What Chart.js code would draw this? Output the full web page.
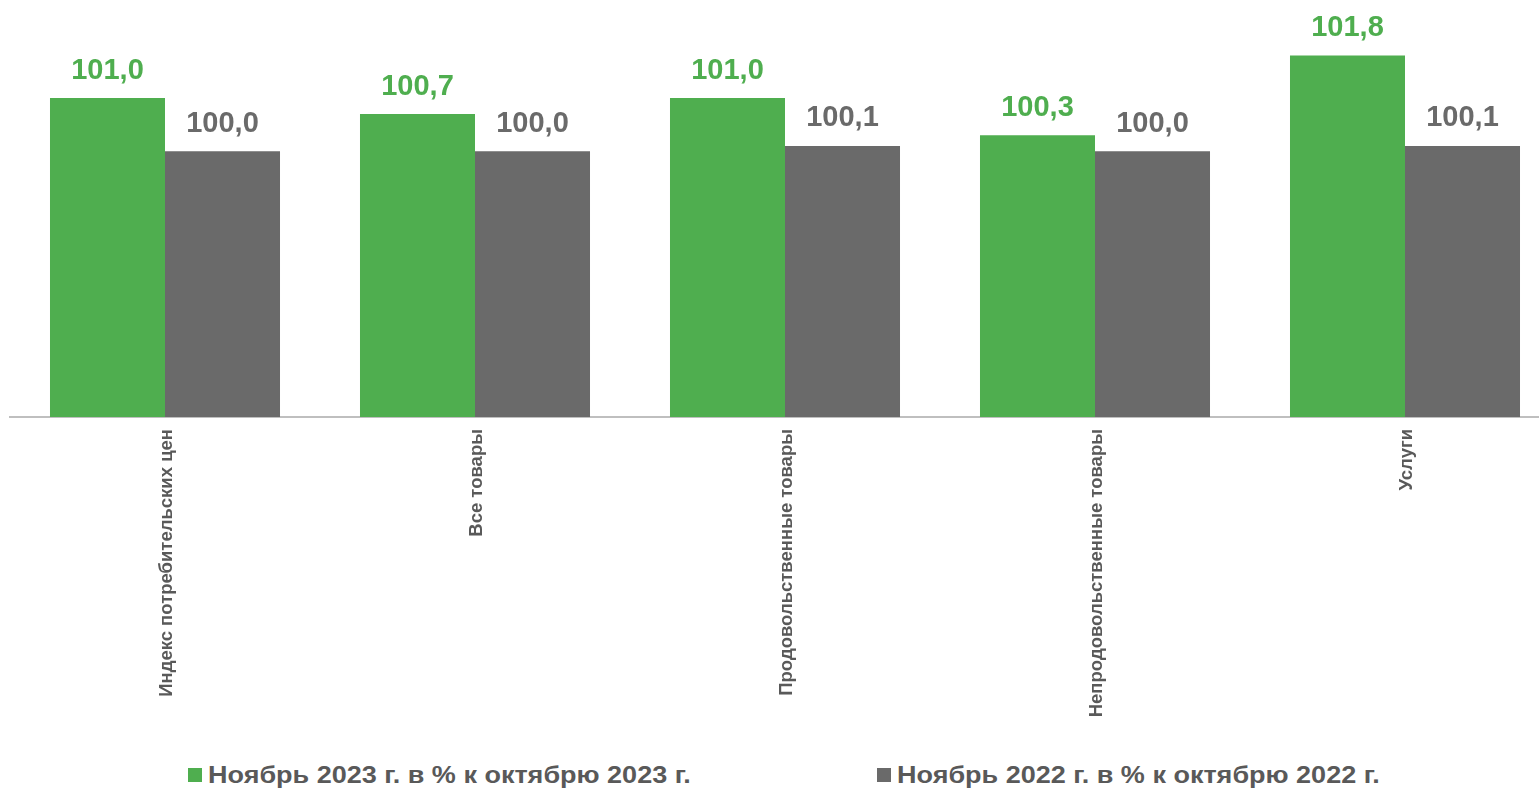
<!DOCTYPE html>
<html lang="ru">
<head>
<meta charset="utf-8">
<script src="https://cdn.jsdelivr.net/npm/chart.js@4.4.1/dist/chart.umd.min.js"></script>
<style>
  html, body { margin: 0; padding: 0; background: #fff; overflow: hidden; }
  .wrap { position: relative; width: 1539px; height: 792px; overflow: hidden; }
  .canvas-box { position: absolute; left: 0; top: 0; width: 1560px; height: 745px; }
  .legend-item {
    position: absolute; top: 761px; display: flex; align-items: center;
    font: bold 24px "Liberation Sans", Arial, sans-serif; color: #595959;
    white-space: nowrap;
  }
  .legend-box { width: 14px; height: 14px; margin-right: 6px; }
  .legend-text { display: inline-block; transform: scaleX(1.125); transform-origin: left center; }
</style>
</head>
<body>
<div class="wrap">
  <div class="canvas-box"><canvas id="cpiChart" width="1560" height="745"></canvas></div>
  <div id="legend"></div>
</div>
<script>
const categories = [
  "Индекс потребительских цен",
  "Все товары",
  "Продовольственные товары",
  "Непродовольственные товары",
  "Услуги"
];
const nov2023 = [101.0, 100.7, 101.0, 100.3, 101.8];
const nov2022 = [100.0, 100.0, 100.1, 100.0, 100.1];
const seriesNames = [
  "Ноябрь 2023 г. в % к октябрю 2023 г.",
  "Ноябрь 2022 г. в % к октябрю 2022 г."
];

const GREEN = "#4fae4f";
const GRAY = "#6a6a6a";
const FONT = '"Liberation Sans", Arial, sans-serif';

function formatValue(v) {
  return v.toFixed(1).replace(".", ",");
}

// value labels above each bar
const valueLabels = {
  id: "valueLabels",
  afterDatasetsDraw(chart) {
    const ctx = chart.ctx;
    ctx.save();
    ctx.font = `bold 29px ${FONT}`;
    ctx.textAlign = "center";
    ctx.textBaseline = "bottom";
    chart.data.datasets.forEach((ds, i) => {
      const meta = chart.getDatasetMeta(i);
      ctx.fillStyle = ds.backgroundColor;
      meta.data.forEach((bar, j) => {
        ctx.fillText(formatValue(ds.data[j]), bar.x, bar.y - 13);
      });
    });
    ctx.restore();
  }
};

// vertical category labels (reading bottom to top)
const verticalTicks = {
  id: "verticalTicks",
  afterDraw(chart) {
    const ctx = chart.ctx;
    const xScale = chart.scales.x;
    const top = chart.chartArea.bottom + 12;
    ctx.save();
    ctx.font = `bold 18.5px ${FONT}`;
    ctx.fillStyle = "#595959";
    ctx.textAlign = "right";
    ctx.textBaseline = "middle";
    categories.forEach((label, i) => {
      const x = xScale.getPixelForValue(i) + 2;
      ctx.save();
      ctx.translate(x, top);
      ctx.rotate(-Math.PI / 2);
      ctx.fillText(label, 0, 0);
      ctx.restore();
    });
    ctx.restore();
  }
};

function renderLegend() {
  const legend = document.getElementById("legend");
  const lefts = [188, 877];
  [GREEN, GRAY].forEach((color, i) => {
    const item = document.createElement("div");
    item.className = "legend-item";
    item.style.left = lefts[i] + "px";
    item.innerHTML = `<span class="legend-box" style="background:${color}"></span><span class="legend-text">${seriesNames[i]}</span>`;
    legend.appendChild(item);
  });
}

const canvas = document.getElementById("cpiChart");
new Chart(canvas, {
  type: "bar",
  data: {
    labels: categories,
    datasets: [
      {
        label: seriesNames[0],
        data: nov2023,
        backgroundColor: GREEN,
        borderWidth: 0,
        categoryPercentage: 0.742,
        barPercentage: 1.0
      },
      {
        label: seriesNames[1],
        data: nov2022,
        backgroundColor: GRAY,
        borderWidth: 0,
        categoryPercentage: 0.742,
        barPercentage: 1.0
      }
    ]
  },
  options: {
    responsive: false,
    animation: false,
    layout: { padding: { top: 13, bottom: 328, left: 10, right: 0 } },
    plugins: {
      legend: { display: false },
      tooltip: { enabled: false }
    },
    scales: {
      x: {
        grid: { display: false, drawTicks: false },
        ticks: { display: false },
        border: { display: true, color: "#bfbfbf", width: 2 }
      },
      y: {
        display: false,
        min: 95,
        max: 102.6
      }
    }
  },
  plugins: [valueLabels, verticalTicks]
});

renderLegend();
</script>
</body>
</html>
